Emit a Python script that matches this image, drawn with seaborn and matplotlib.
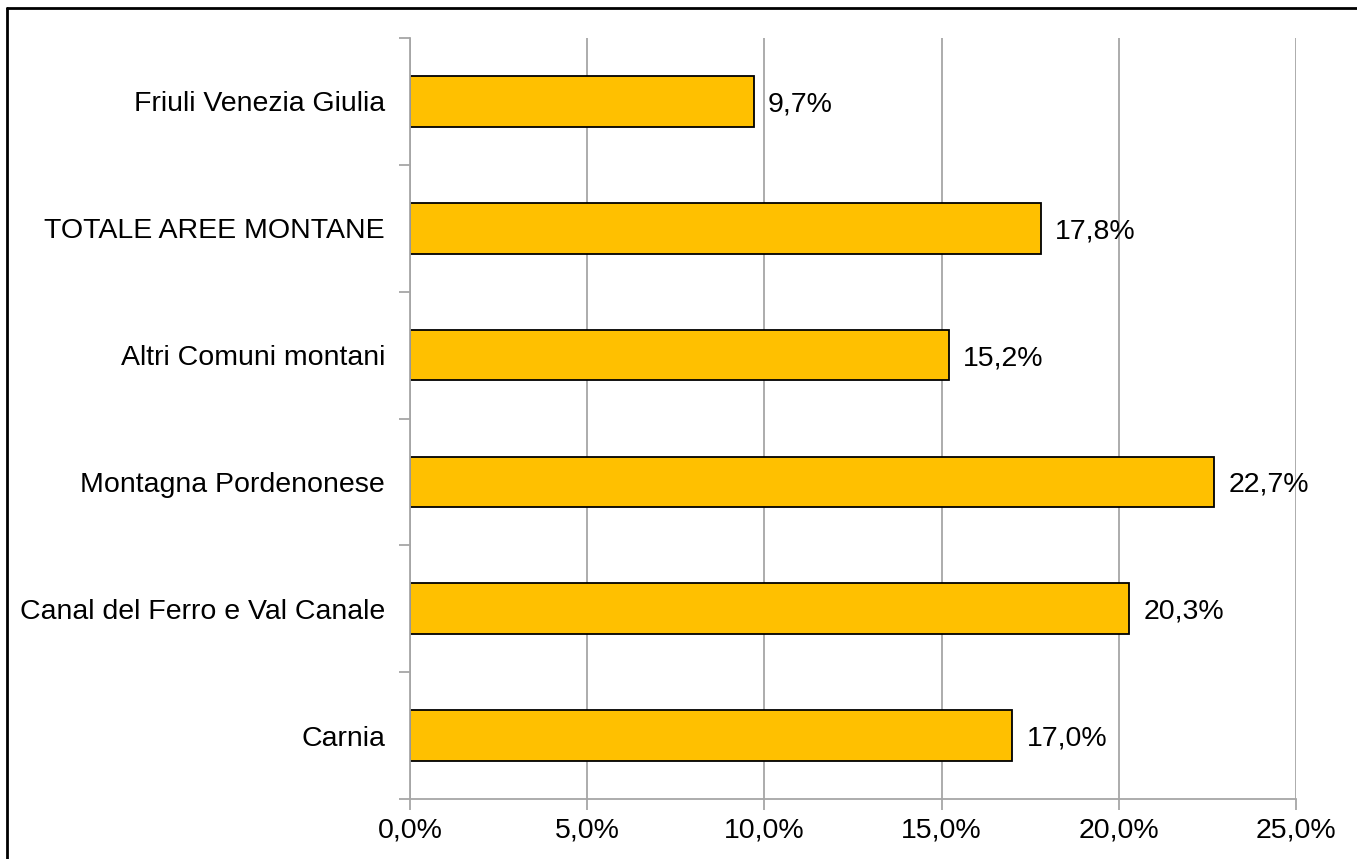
import matplotlib
matplotlib.use("Agg")
import matplotlib.pyplot as plt
from matplotlib.lines import Line2D
from matplotlib.ticker import FuncFormatter, MultipleLocator, FixedLocator
import seaborn as sns
import pandas as pd

areas = ['Friuli Venezia Giulia', 'TOTALE AREE MONTANE', 'Altri Comuni montani',
         'Montagna Pordenonese', 'Canal del Ferro e Val Canale', 'Carnia']
values = [9.7, 17.8, 15.2, 22.7, 20.3, 17.0]

df = pd.DataFrame({'area': areas, 'value': values})

sns.set_style('white')
plt.rcParams['font.family'] = ['Liberation Sans', 'DejaVu Sans']

W, H = 1357, 859
FS = 20.5
fig = plt.figure(figsize=(W / 100, H / 100), dpi=100)
ax = fig.add_axes([410 / W, 1 - 799 / H, (1296 - 410) / W, (799 - 38) / H])

sns.barplot(data=df, y='area', x='value', orient='h', color='#FFC000',
            edgecolor='black', linewidth=1.3, width=0.4, saturation=1, ax=ax)

ax.set_xlim(0, 25)
ax.set_ylim(5.5, -0.5)
ax.xaxis.set_major_locator(MultipleLocator(5))
ax.xaxis.set_major_formatter(FuncFormatter(lambda v, p: ('%.1f%%' % v).replace('.', ',')))
ax.grid(axis='x', color='#a6a6a6', linewidth=1.3)
ax.set_axisbelow(True)
ax.set_xlabel('')
ax.set_ylabel('')

for s in ['top', 'right']:
    ax.spines[s].set_visible(False)
for s in ['left', 'bottom']:
    ax.spines[s].set_color('#a6a6a6')
    ax.spines[s].set_linewidth(1.3)

# y ticks: labels at centers, tick marks at category boundaries
ax.yaxis.set_minor_locator(FixedLocator([i - 0.5 for i in range(len(areas) + 1)]))
ax.tick_params(axis='y', which='major', length=0, pad=18, labelsize=FS, labelcolor='black')
ax.tick_params(axis='y', which='minor', length=8, width=1.3, color='#a6a6a6', left=True)
ax.tick_params(axis='x', which='major', length=8, width=1.3, color='#a6a6a6', bottom=True,
               labelsize=FS, labelcolor='black', pad=5)

for i, v in enumerate(values):
    ax.text(v + 0.4, i, ('%.1f%%' % v).replace('.', ','), va='center_baseline', ha='left',
            fontsize=FS, color='black')

# outer frame (top and left edges only visible)
fig.add_artist(Line2D([7 / W, 7 / W], [1 - 8 / H, 0], transform=fig.transFigure,
                      color='black', linewidth=2))
fig.add_artist(Line2D([7 / W, 1], [1 - 8 / H, 1 - 8 / H], transform=fig.transFigure,
                      color='black', linewidth=2))

fig.savefig('out.png', dpi=100)
